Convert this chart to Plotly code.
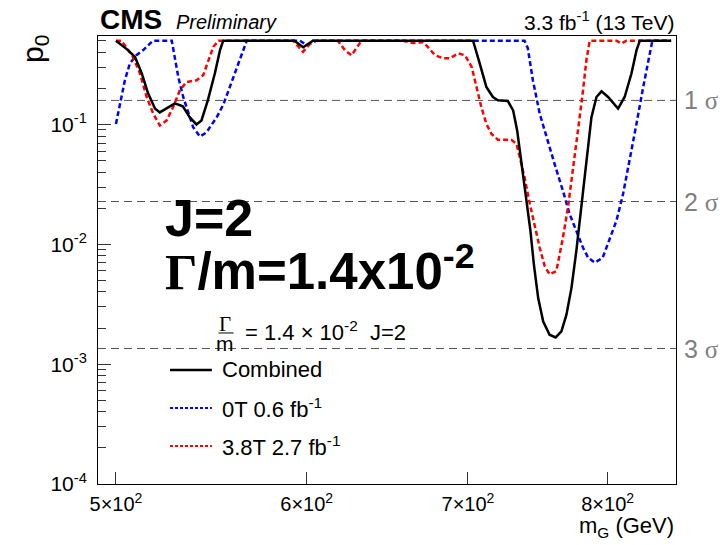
import math
import plotly.graph_objects as go

# Local p-value scan vs. graviton mass, J=2, Gamma/m = 1.4e-2
mass_comb = [500, 505.8, 509.2, 512.5, 515.6, 519.0, 521.4, 524.8, 529.0, 533.0,
             536.6, 540.0, 542.6, 545.9, 549.6, 552.3, 554.0, 593.0, 598.0, 603.6,
             703.4, 707.9, 712.4, 716.9, 720.3, 727.2, 730.9, 733.7, 736.1, 738.4,
             740.5, 743.1, 745.5, 748.6, 752.2, 756.8, 761.2, 765.4, 769.1, 772.8,
             776.4, 780.2, 783.9, 787.7, 791.5, 795.3, 800.3, 808.0, 813.1, 818.4,
             822.4, 825.0, 850]
p0_comb = [0.5, 0.417, 0.365, 0.267, 0.182, 0.136, 0.126, 0.136, 0.150, 0.1415,
           0.1145, 0.100, 0.108, 0.159, 0.267, 0.417, 0.5, 0.5, 0.44, 0.5,
           0.5, 0.323, 0.2056, 0.1695, 0.159, 0.1567, 0.131, 0.0891, 0.0532, 0.034,
           0.0231, 0.0129, 0.00684, 0.00356, 0.00227, 0.00176, 0.00167, 0.001876, 0.00259, 0.00433,
           0.00879, 0.0203, 0.0469, 0.115, 0.1695, 0.189, 0.1695, 0.1355, 0.1695, 0.266,
           0.417, 0.5, 0.5]

mass_0t = [500, 501.9, 504.3, 506.7, 509.9, 513.2, 518.0, 527.4, 529.0, 530.7,
           533.2, 535.8, 538.3, 541.8, 545.3, 547.0, 550.6, 554.1, 559.4, 563.9,
           566.6, 596.1, 600.0, 605.7, 738.9, 741.2, 744.8, 749.7, 754.5, 760.4,
           766.5, 771.5, 776.4, 781.4, 785.2, 790.2, 796.2, 800.1, 806.7, 811.9,
           817.1, 822.4, 827.6, 831.6, 834.9, 850]
p0_0t = [0.101, 0.150, 0.234, 0.323, 0.378, 0.417, 0.5, 0.5, 0.366, 0.249,
         0.1695, 0.123, 0.0949, 0.0793, 0.0861, 0.0949, 0.115, 0.147, 0.249, 0.392,
         0.5, 0.5, 0.459, 0.5, 0.5, 0.433, 0.234, 0.123, 0.0783, 0.0469,
         0.028, 0.0178, 0.01294, 0.00935, 0.00773, 0.00702, 0.00773, 0.01, 0.0157, 0.0264,
         0.0499, 0.102, 0.204, 0.344, 0.5, 0.5]

mass_38t = [500, 502.7, 508.2, 511.6, 514.9, 518.1, 521.4, 524.8, 528.1, 531.5,
            534.9, 540.1, 543.5, 546.2, 548.8, 551.5, 592.2, 597.9, 603.6, 618.1,
            622.3, 626.3, 631.3, 633.2, 657.7, 664.0, 670.6, 673.8, 678.3, 683.5,
            688.0, 693.5, 698.0, 702.5, 705.6, 709.0, 712.4, 715.8, 720.3, 729.6,
            733.3, 735.5, 738.9, 742.6, 749.7, 753.3, 756.8, 761.7, 766.5, 770.2,
            773.9, 777.6, 781.4, 783.9, 786.4, 806.7, 810.6, 814.5, 850]
p0_38t = [0.5, 0.5, 0.366, 0.267, 0.1695, 0.1236, 0.098, 0.108, 0.1396, 0.193,
          0.226, 0.234, 0.258, 0.344, 0.445, 0.5, 0.5, 0.404, 0.5, 0.5,
          0.417, 0.378, 0.478, 0.5, 0.5, 0.478, 0.486, 0.441, 0.378, 0.356,
          0.356, 0.392, 0.378, 0.302, 0.2056, 0.1396, 0.1014, 0.0836, 0.0744, 0.0744,
          0.0689, 0.0532, 0.0362, 0.0218, 0.00935, 0.00657, 0.00561, 0.00597, 0.01135, 0.0203,
          0.0411, 0.0891, 0.193, 0.344, 0.5, 0.5, 0.474, 0.5, 0.5]

series_names = ["Combined", "0T 0.6 fb<sup>-1</sup>", "3.8T 2.7 fb<sup>-1</sup>"]

x_tickvals = [500, 600, 700, 800]
x_ticktext = ["5×10<sup>2</sup>", "6×10<sup>2</sup>", "7×10<sup>2</sup>", "8×10<sup>2</sup>"]
y_tickvals = [1e-4, 1e-3, 1e-2, 1e-1]
y_ticktext = ["10<sup>-4</sup>", "10<sup>-3</sup>", "10<sup>-2</sup>", "10<sup>-1</sup>"]
sigma_levels = [1, 2, 3]

X_RANGE = [491.5, 854.0]
Y_RANGE = [1e-4, 0.547]

FONT = "Liberation Sans"
SERIF = "Liberation Serif"

fig = go.Figure()

shapes = []
annotations = []

# significance reference lines (one-sided Gaussian tail) with labels
for n in sigma_levels:
    p = 0.5 * math.erfc(n / math.sqrt(2))
    fig.add_trace(go.Scatter(x=X_RANGE, y=[p, p], mode="lines", hoverinfo="skip",
                             line=dict(color="#555555", width=1, dash="8px,5px")))
    annotations.append(dict(xref="paper", x=1.011, xanchor="left", yref="y",
                            y=math.log10(p), yanchor="middle", showarrow=False,
                            text=f"{n} <span style='font-family:{SERIF}'>σ</span>",
                            font=dict(family=FONT, size=25, color="#808080")))

fig.add_trace(go.Scatter(x=mass_0t, y=p0_0t, mode="lines", name=series_names[1],
                         line=dict(color="#0000ff", width=2.5, dash="5px,3px")))
fig.add_trace(go.Scatter(x=mass_38t, y=p0_38t, mode="lines", name=series_names[2],
                         line=dict(color="#ff0000", width=2.5, dash="5px,3px")))
fig.add_trace(go.Scatter(x=mass_comb, y=p0_comb, mode="lines", name=series_names[0],
                         line=dict(color="black", width=2.5)))

# minor ticks on the log y axis
minor_y = []
for e in range(-4, 0):
    for k in range(2, 10):
        v = k * 10 ** e
        if v <= Y_RANGE[1]:
            minor_y.append(v)
minor_y += [0.2, 0.3, 0.4, 0.5]

# legend block
legend_styles = [dict(color="black", width=2.5),
                 dict(color="#0000ff", width=2, dash="3px,2px"),
                 dict(color="#ff0000", width=2, dash="3px,2px")]
legend_y = [0.2545, 0.1696, 0.0848]
for name, st, ly in zip(series_names, legend_styles, legend_y):
    shapes.append(dict(type="line", xref="paper", yref="paper", x0=0.1246, x1=0.197,
                       y0=ly, y1=ly, line=st))
    annotations.append(dict(xref="paper", yref="paper", x=0.211, y=ly, xanchor="left",
                            yanchor="middle", showarrow=False, text=name,
                            font=dict(family=FONT, size=22, color="black")))

# legend header: Gamma over m fraction
annotations.append(dict(xref="paper", yref="paper", x=0.2197, y=0.358, xanchor="center",
                        yanchor="middle", showarrow=False, text="Γ",
                        font=dict(family=SERIF, size=21, color="black")))
shapes.append(dict(type="line", xref="paper", yref="paper", x0=0.2085, x1=0.2345,
                   y0=0.3371, y1=0.3371, line=dict(color="black", width=1)))
annotations.append(dict(xref="paper", yref="paper", x=0.2197, y=0.313, xanchor="center",
                        yanchor="middle", showarrow=False, text="m",
                        font=dict(family=FONT, size=21, color="black")))
annotations.append(dict(xref="paper", yref="paper", x=0.2509, y=0.342, xanchor="left",
                        yanchor="middle", showarrow=False,
                        text="= 1.4 × 10<sup>-2</sup>  J=2",
                        font=dict(family=FONT, size=22, color="black")))

# large model labels
annotations.append(dict(xref="paper", yref="paper", x=0.113, y=0.594, xanchor="left",
                        yanchor="middle", showarrow=False, text="<b>J=2</b>",
                        font=dict(family=FONT, size=52, color="black")))
annotations.append(dict(xref="paper", yref="paper", x=0.113, y=0.406, xanchor="left",
                        yanchor="bottom", showarrow=False,
                        text=f"<b><span style='font-family:{SERIF}'>Γ</span>/m=1.4x10<sup>-2</sup></b>",
                        font=dict(family=FONT, size=51, color="black")))

# header texts
annotations.append(dict(xref="paper", yref="paper", x=0.0, y=1.036, xanchor="left",
                        yanchor="middle", showarrow=False, text="<b>CMS</b>",
                        font=dict(family=FONT, size=28, color="black")))
annotations.append(dict(xref="paper", yref="paper", x=0.131, y=1.031, xanchor="left",
                        yanchor="middle", showarrow=False, text="<i>Preliminary</i>",
                        font=dict(family=FONT, size=20, color="black")))
annotations.append(dict(xref="paper", yref="paper", x=1.0, y=1.034, xanchor="right",
                        yanchor="middle", showarrow=False,
                        text="3.3 fb<sup>-1</sup> (13 TeV)",
                        font=dict(family=FONT, size=21, color="black")))

# axis titles
annotations.append(dict(xref="paper", yref="paper", x=-0.11, y=0.972, xanchor="center",
                        yanchor="middle", showarrow=False, textangle=-90,
                        text="p<sub>0</sub>",
                        font=dict(family=FONT, size=30, color="black")))
annotations.append(dict(xref="paper", yref="paper", x=1.0, y=-0.096, xanchor="right",
                        yanchor="middle", showarrow=False, text="m<sub>G</sub> (GeV)",
                        font=dict(family=FONT, size=22, color="black")))

fig.update_layout(
    width=726, height=545,
    margin=dict(l=98, r=50, t=36, b=61),
    paper_bgcolor="white", plot_bgcolor="white",
    showlegend=False,
    font=dict(family=FONT, color="black"),
    shapes=shapes,
    annotations=annotations,
    xaxis=dict(type="log", range=[math.log10(X_RANGE[0]), math.log10(X_RANGE[1])],
               tickvals=x_tickvals, ticktext=x_ticktext, ticks="inside", ticklen=12,
               tickcolor="#333333", showline=True, linecolor="black", linewidth=1,
               mirror=True, showgrid=False, zeroline=False,
               tickfont=dict(family=FONT, size=20, color="black"), ticklabelstandoff=2),
    yaxis=dict(type="log", range=[math.log10(Y_RANGE[0]), math.log10(Y_RANGE[1])],
               tickvals=y_tickvals, ticktext=y_ticktext, ticks="inside", ticklen=13,
               tickcolor="#333333", showline=True, linecolor="black", linewidth=1,
               mirror=True, showgrid=False, zeroline=False,
               tickfont=dict(family=FONT, size=21, color="black"), ticklabelstandoff=6,
               minor=dict(tickvals=minor_y, ticks="inside", ticklen=8,
                          tickcolor="#333333", showgrid=False)),
)

fig.write_html("out.html")
